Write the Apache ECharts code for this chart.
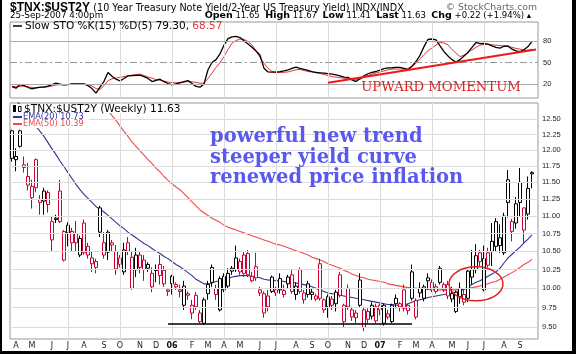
<!DOCTYPE html>
<html>
<head>
<meta charset="utf-8">
<script src="https://cdn.jsdelivr.net/npm/echarts@6/dist/echarts.min.js"></script>
<style>
  html, body { margin: 0; padding: 0; background: #fff; }
  #chart { width: 576px; height: 354px; }
</style>
</head>
<body>
<div id="chart"></div>
<script>
// weekly bars, first week starts Mon 28-Mar-2005
var firstWeek = Date.UTC(2005, 2, 28);
var weekSlots = 132; // one empty slot after the last bar

// [open, close, low, high]
var candles = [
  [12.31,11.87,11.82,12.33],[11.85,11.90,11.67,12.03],[12.31,12.06,12.04,12.33],[11.73,11.77,11.65,11.90],
  [11.59,11.46,11.38,11.80],[11.27,11.44,11.11,11.54],[11.85,11.42,11.35,11.87],[11.24,11.20,11.02,11.31],
  [11.37,11.22,11.02,11.42],[11.35,11.17,11.05,11.38],[10.66,10.92,10.50,11.00],[10.97,10.95,10.90,11.02],
  [11.37,10.92,10.90,11.54],[10.38,10.78,10.36,10.80],[10.76,10.87,10.57,10.91],[10.62,10.78,10.50,10.83],
  [10.75,10.62,10.50,10.93],[10.45,10.68,10.42,10.72],[10.90,10.48,10.45,10.95],[10.57,10.45,10.40,10.62],
  [10.41,10.33,10.22,10.50],[10.36,10.28,10.20,10.40],[11.12,10.77,10.70,11.15],[10.45,10.62,10.40,10.77],
  [10.49,10.77,10.38,10.80],[10.62,10.59,10.50,10.66],[10.26,10.50,10.18,10.59],[10.41,10.32,10.28,10.45],
  [10.22,10.52,10.18,10.62],[10.62,10.50,10.45,10.70],[10.00,10.42,9.98,10.50],[10.25,10.45,10.15,10.55],
  [10.45,10.28,10.20,10.50],[10.38,10.25,10.10,10.45],[10.32,10.27,10.22,10.35],[10.02,10.20,9.95,10.28],
  [10.24,10.25,10.08,10.32],[10.32,10.17,10.05,10.45],[10.24,10.06,10.02,10.30],[9.96,9.98,9.90,10.00],
  [10.16,10.06,9.92,10.18],[10.05,10.02,9.98,10.08],[9.96,9.98,9.88,10.05],[9.78,10.03,9.72,10.10],
  [9.93,9.91,9.85,9.96],[9.68,9.78,9.60,9.85],[9.91,9.76,9.72,9.95],[9.57,9.68,9.55,9.72],
  [9.55,9.85,9.53,9.88],[9.93,10.05,9.85,10.10],[10.28,10.08,10.02,10.32],[9.92,10.00,9.85,10.05],
  [9.72,10.13,9.70,10.16],[9.98,10.16,9.95,10.20],[10.03,10.20,10.00,10.27],[10.27,10.23,10.18,10.30],
  [10.25,10.41,10.22,10.58],[10.22,10.36,10.18,10.40],[10.45,10.20,10.15,10.50],[10.47,10.18,10.15,10.52],
  [10.10,10.16,10.08,10.22],[10.29,10.14,10.10,10.48],[9.98,9.94,9.90,10.02],[9.68,9.93,9.62,9.96],
  [9.76,9.90,9.70,9.98],[10.15,9.96,9.94,10.17],[9.98,9.94,9.90,10.02],[10.13,9.98,9.93,10.20],
  [9.92,9.97,9.88,10.05],[10.15,10.06,10.00,10.18],[10.18,9.96,9.93,10.25],[9.92,10.03,9.85,10.08],
  [10.25,9.96,9.93,10.28],[9.94,9.85,9.80,9.98],[10.06,9.92,9.88,10.10],[9.92,9.95,9.85,10.00],
  [9.86,9.90,9.83,9.93],[10.33,9.87,9.84,10.40],[9.72,9.85,9.68,9.87],[9.76,9.89,9.62,9.92],
  [9.78,9.86,9.72,9.90],[9.80,9.95,9.70,9.98],[10.18,9.91,9.88,10.22],[9.57,9.78,9.50,9.80],
  [10.00,9.76,9.72,10.05],[9.72,9.63,9.58,9.76],[9.68,9.62,9.55,9.72],[10.11,9.78,9.75,10.20],
  [9.50,9.72,9.45,9.76],[9.60,9.70,9.55,9.74],[9.64,9.78,9.60,9.82],[9.58,9.76,9.55,9.80],
  [9.78,9.72,9.65,9.80],[9.55,9.78,9.52,9.80],[9.63,9.67,9.60,9.72],[9.57,9.78,9.55,9.80],
  [9.87,9.80,9.74,9.92],[9.80,9.76,9.70,9.82],[9.98,9.74,9.70,10.05],[9.78,9.71,9.66,9.80],
  [10.22,9.87,9.84,10.32],[9.63,9.84,9.60,9.87],[10.00,9.94,9.88,10.08],[9.87,10.02,9.83,10.05],
  [10.14,10.10,9.98,10.20],[9.98,10.08,9.95,10.12],[9.96,10.02,9.93,10.06],[10.27,10.08,10.05,10.30],
  [9.98,10.05,9.95,10.08],[10.05,9.90,9.86,10.10],[9.86,9.93,9.82,10.02],[9.70,9.95,9.68,9.97],
  [9.89,10.00,9.80,10.08],[9.82,9.92,9.78,9.98],[9.87,10.23,9.82,10.25],[10.15,10.25,10.05,10.52],
  [10.25,10.44,10.20,10.60],[10.48,10.36,10.30,10.52],[9.98,10.40,9.96,10.58],[10.48,10.31,10.28,10.55],
  [10.64,10.50,10.30,10.90],[10.92,10.57,10.50,10.97],[10.69,10.58,10.48,10.88],[10.48,11.00,10.45,11.05],
  [11.54,11.20,10.98,11.69],[10.92,10.78,10.64,10.96],[11.18,10.90,10.82,11.28],[11.50,11.20,11.00,11.72],
  [10.80,11.12,10.62,11.12],[11.03,11.41,10.95,11.59],[11.65,11.63,11.41,11.67]
];

var ema20 = [
  12.91,12.82,12.74,12.65,12.55,12.46,12.38,12.30,12.22,12.12,12.02,11.93,11.83,11.74,11.65,11.56,
  11.47,11.39,11.32,11.26,11.20,11.14,11.10,11.06,11.01,10.96,10.91,10.86,10.82,10.77,10.73,10.69,
  10.65,10.61,10.58,10.54,10.50,10.47,10.43,10.40,10.36,10.32,10.29,10.25,10.21,10.17,10.12,10.09,
  10.06,10.06,10.07,10.09,10.10,10.12,10.13,10.15,10.16,10.17,10.17,10.17,10.16,10.15,10.14,10.12,
  10.11,10.11,10.10,10.10,10.09,10.09,10.08,10.07,10.06,10.05,10.04,10.02,10.00,9.98,9.96,9.94,
  9.93,9.92,9.91,9.90,9.89,9.88,9.87,9.86,9.85,9.84,9.83,9.82,9.81,9.80,9.79,9.79,
  9.78,9.78,9.78,9.80,9.82,9.84,9.85,9.86,9.88,9.89,9.90,9.91,9.92,9.93,9.94,9.95,
  9.97,9.99,10.02,10.05,10.08,10.10,10.13,10.16,10.19,10.22,10.27,10.34,10.41,10.46,10.51,10.56,
  10.62,10.67,10.73
];

var ema50 = [
  14.6,14.5,14.4,14.3,14.2,14.1,14.0,13.9,13.8,13.7,13.6,13.5,13.42,13.34,13.26,13.18,
  13.10,13.02,12.95,12.88,13.0,12.92,12.84,12.74,12.65,12.56,12.48,12.39,12.30,12.22,12.13,12.06,
  11.99,11.92,11.85,11.79,11.72,11.66,11.59,11.53,11.48,11.43,11.39,11.33,11.27,11.21,11.15,11.09,
  11.05,11.01,10.97,10.94,10.91,10.87,10.84,10.82,10.80,10.78,10.76,10.74,10.72,10.70,10.68,10.66,
  10.64,10.62,10.60,10.59,10.57,10.55,10.53,10.51,10.49,10.47,10.45,10.42,10.40,10.38,10.36,10.33,
  10.31,10.29,10.27,10.24,10.22,10.19,10.17,10.15,10.14,10.12,10.11,10.10,10.09,10.08,10.06,10.05,
  10.04,10.03,10.02,10.01,10.01,10.00,10.00,9.99,9.99,9.98,9.98,9.98,9.98,9.98,9.98,9.98,
  9.99,9.99,10.00,10.01,10.02,10.03,10.05,10.06,10.08,10.09,10.12,10.15,10.18,10.21,10.24,10.28,
  10.32,10.35,10.39
];

var stochK = [
  16.8,14.6,19.5,18,15.5,13.5,15,16,16,17.5,19.5,21.5,20,19,19.5,20.4,
  20.5,20.5,20.4,18,14,7.7,16,24,36.2,31,27,24.7,28,31.6,32,32.3,
  32.5,30.5,28,23.7,25.5,27,23.5,21,19.1,20.5,22,23.5,25,21,17,16,
  20.5,40,50,54,62,74,83,85.5,86,84.5,80,75.5,71,66,60,42,
  37,36.8,36.7,37.3,38.5,40,41.8,43.6,42,40.5,39,37.5,36.2,35.8,35.4,34.8,
  34,33,31.5,29.8,29.5,26,23.7,27.5,31.5,34.5,36.5,37.6,39.5,41.5,42.5,42.8,
  43.2,43.4,42,40,45,51.4,60,72,82,82.5,81.4,73,65,59,54,50.5,
  54,59,64,71,77.7,76,76.5,75.5,73.1,71,70,72.5,73,68.5,66,65.2,
  67.5,72,79.3
];

var stochD = [
  17,16.5,17,17.5,16.5,15.5,15,15.5,16,16.5,17.5,19,19.5,19.5,19.5,20,
  20,20,20,19.5,17.5,14,13,18,25,27.5,28.5,29.5,30.6,31.5,32.5,33.5,
  34,32,30,28.4,26.5,25.5,24.5,23,22.3,22,22.5,23,23.7,23.5,22.5,21.5,
  21.5,28,35.3,43,50,58.3,68,76.8,80.5,82.4,82,79,74.5,66,57,49,
  42,37.6,36.5,36.2,36.5,37,38.5,40,40.5,39,37.6,37,36.5,35,33.5,32,
  30.6,29.8,29,28.4,27.5,26.8,26,27,30,32,34,35.5,37,38.5,40,40.8,
  41,41,40.8,42,44.5,49,55,61,66.5,70,74,77.7,77,74.5,68,63,
  58.3,60,64,67.5,71,74,75,75,74.5,74,73.5,73.1,72,71,69.5,68.5,
  67,67,68.57
];

var priceTicks = [9.50, 9.75, 10.00, 10.25, 10.50, 10.75, 11.00, 11.25, 11.50, 11.75, 12.00, 12.25, 12.50];
var stochLevels = [20, 50, 80];
var monthLetters = ['J','F','M','A','M','J','J','A','S','O','N','D'];

var weeks = [];
for (var i = 0; i < weekSlots; i++) {
  weeks.push(new Date(firstWeek + i * 7 * 864e5).toISOString().slice(0, 10));
}
function monthStart(idx) {
  return idx < candles.length && +weeks[idx].slice(8, 10) <= 7;
}
var quarterLines = [];
weeks.forEach(function (w, idx) {
  var m = +w.slice(5, 7) - 1;
  if (idx > 2 && monthStart(idx) && m % 3 === 0) quarterLines.push({ xAxis: w });
});

var RED = '#cc0033';
var candleData = candles.map(function (c, idx) {
  var prev = idx > 0 ? candles[idx - 1][1] : c[1];
  var col = c[1] >= prev ? '#000' : RED;
  return {
    value: c,
    itemStyle: { color: '#fff', color0: col, borderColor: col, borderColor0: col, borderColorDoji: col }
  };
});

var gridLine = { color: '#dcdcdc', width: 1, type: 'solid' };
var tickFont = { color: '#222', fontSize: 7.5, fontFamily: 'Liberation Sans, Arial' };

var chartDom = document.getElementById('chart');
var myChart = echarts.init(chartDom);
var option = {
  animation: false,
  backgroundColor: '#fff',
  grid: [
    { left: 10, right: 38, top: 22, height: 76, show: true, borderColor: '#999', borderWidth: 1 },
    { left: 10, right: 38, top: 103, height: 236, show: true, borderColor: '#999', borderWidth: 1 }
  ],
  xAxis: [
    { type: 'category', gridIndex: 0, data: weeks, show: false },
    {
      type: 'category', gridIndex: 1, data: weeks,
      axisLine: { show: false }, axisTick: { show: false }, splitLine: { show: false },
      axisLabel: {
        margin: 3,
        interval: function (idx) { return monthStart(idx); },
        formatter: function (v) {
          var m = +v.slice(5, 7) - 1;
          return m === 0 ? '{y|' + v.slice(2, 4) + '}' : monthLetters[m];
        },
        color: '#222', fontSize: 8, fontFamily: 'DejaVu Sans',
        rich: { y: { fontWeight: 'bold', fontSize: 8, fontFamily: 'DejaVu Sans', color: '#111' } }
      }
    }
  ],
  yAxis: [
    { type: 'value', gridIndex: 0, min: 1, max: 106, show: false },
    { type: 'log', gridIndex: 1, min: 9.354, max: 12.77, show: false }
  ],
  series: [
    {
      // grid lines of the momentum panel
      type: 'line', xAxisIndex: 0, yAxisIndex: 0, data: stochK, z: 1, silent: true,
      symbol: 'none', lineStyle: { opacity: 0 },
      markLine: {
        silent: true, symbol: 'none', animation: false,
        label: Object.assign({ show: true, position: 'end', distance: 5, formatter: '{c}' }, tickFont),
        data: quarterLines.map(function (q) {
          return Object.assign({ lineStyle: gridLine, label: { show: false } }, q);
        }).concat(stochLevels.map(function (v) {
          return {
            yAxis: v,
            lineStyle: v === 50 ? { color: '#999', width: 1, type: [7, 3, 2, 3] } : { color: '#aaa', width: 1.2, type: 'solid' }
          };
        }))
      }
    },
    {
      name: '%D', type: 'line', xAxisIndex: 0, yAxisIndex: 0, data: stochD, z: 3,
      symbol: 'none', lineStyle: { color: '#e8363a', width: 1 }
    },
    {
      name: '%K', type: 'line', xAxisIndex: 0, yAxisIndex: 0, data: stochK, z: 4,
      symbol: 'none', lineStyle: { color: '#000', width: 1.3 },
      markLine: {
        silent: true, symbol: 'none', animation: false,
        lineStyle: { color: '#f01818', width: 2, type: 'solid' },
        label: { show: false },
        data: [[{ coord: [weeks[79], 22.2] }, { coord: [weeks[131], 67.9] }]]
      }
    },
    {
      // grid lines and price scale of the main panel
      type: 'line', xAxisIndex: 1, yAxisIndex: 1, data: ema20, z: 1, silent: true,
      symbol: 'none', lineStyle: { opacity: 0 },
      markLine: {
        silent: true, symbol: 'none', animation: false,
        label: Object.assign({ show: true, position: 'end', distance: 4,
          formatter: function (p) { return p.value.toFixed(2); } }, tickFont),
        data: quarterLines.map(function (q) {
          return Object.assign({ lineStyle: gridLine, label: { show: false } }, q);
        }).concat(priceTicks.map(function (v) {
          return { yAxis: v, lineStyle: gridLine };
        }))
      }
    },
    {
      name: 'EMA(50)', type: 'line', xAxisIndex: 1, yAxisIndex: 1, data: ema50, z: 2,
      symbol: 'none', lineStyle: { color: '#f04a4a', width: 1.1 }
    },
    {
      name: 'EMA(20)', type: 'line', xAxisIndex: 1, yAxisIndex: 1, data: ema20, z: 2,
      symbol: 'none', lineStyle: { color: '#33338f', width: 1.1 }
    },
    {
      name: '$TNX:$UST2Y', type: 'candlestick', xAxisIndex: 1, yAxisIndex: 1, z: 3,
      barWidth: 2.6, data: candleData,
      itemStyle: { borderWidth: 1 },
      markLine: {
        silent: true, symbol: 'none', animation: false,
        lineStyle: { color: '#000', width: 1.6, type: 'solid' },
        label: { show: false },
        data: [[{ coord: [weeks[39], 9.54] }, { coord: [weeks[100], 9.54] }]]
      }
    }
  ],
  graphic: [
    // outer frame
    { type: 'rect', shape: { x: 0, y: 0, width: 2, height: 354 }, style: { fill: '#000' }, z: 100 },
    { type: 'rect', shape: { x: 572, y: 0, width: 4, height: 354 }, style: { fill: '#000' }, z: 100 },
    { type: 'rect', shape: { x: 0, y: 351, width: 576, height: 3 }, style: { fill: '#000' }, z: 100 },
    // header
    { type: 'text', x: 10, y: 8, z: 50, style: {
      text: '{a|$TNX:$UST2Y} {b|(10 Year Treasury Note Yield/2-Year US Treasury Yield) INDX/INDX}',
      verticalAlign: 'middle',
      rich: {
        a: { font: 'bold 12px Liberation Sans, Arial', fill: '#000' },
        b: { font: '9.6px DejaVu Sans', fill: '#000' }
      } } },
    { type: 'text', x: 537, y: 8, z: 50, style: {
      text: '\u00a9 StockCharts.com', align: 'right', verticalAlign: 'middle',
      font: '9.3px DejaVu Sans', fill: '#666' } },
    { type: 'text', x: 10, y: 16, z: 50, style: {
      text: '25-Sep-2007 4:00pm', verticalAlign: 'middle', font: '8.8px DejaVu Sans', fill: '#000' } },
    { type: 'text', x: 531, y: 16, z: 50, style: {
      text: '{h|Open} 11.65  {h|High} 11.67  {h|Low} 11.41  {h|Last} 11.63  {h|Chg} +0.22 (+1.94%) \u25b4',
      align: 'right', verticalAlign: 'middle', font: '8.5px DejaVu Sans', fill: '#000',
      rich: { h: { font: 'bold 9.5px DejaVu Sans', fill: '#000' } } } },
    // momentum legend
    { type: 'line', shape: { x1: 13, y1: 26, x2: 22, y2: 26 }, style: { stroke: '#000', lineWidth: 1.5 }, z: 50 },
    { type: 'text', x: 25, y: 26, z: 50, style: {
      text: 'Slow STO %K(15) %D(5) 79.30, {r|68.57}', verticalAlign: 'middle',
      font: '10.5px DejaVu Sans', fill: '#000',
      rich: { r: { font: '10.5px DejaVu Sans', fill: '#e8363a' } } } },
    { type: 'text', x: 441, y: 88, z: 50, style: {
      text: 'UPWARD MOMENTUM', align: 'center', verticalAlign: 'middle',
      font: '13.2px DejaVu Serif', fill: '#e02020' } },
    // price legend, on a white backing like the original
    { type: 'rect', shape: { x: 11, y: 104, width: 176, height: 9 }, style: { fill: '#fff' }, z: 45 },
    { type: 'rect', shape: { x: 11, y: 113, width: 78, height: 15 }, style: { fill: '#fff' }, z: 45 },
    { type: 'rect', shape: { x: 13, y: 105, width: 3, height: 7 }, style: { fill: '#000' }, z: 50 },
    { type: 'rect', shape: { x: 18.5, y: 106.5, width: 2.5, height: 5 }, style: { fill: '#fff', stroke: '#000', lineWidth: 1 }, z: 50 },
    { type: 'text', x: 24, y: 109, z: 50, style: {
      text: '$TNX:$UST2Y (Weekly) 11.63', verticalAlign: 'middle', font: '10.6px DejaVu Sans', fill: '#000' } },
    { type: 'line', shape: { x1: 13, y1: 117, x2: 22, y2: 117 }, style: { stroke: '#33338f', lineWidth: 2 }, z: 50 },
    { type: 'text', x: 23, y: 117, z: 50, style: {
      text: 'EMA(20) 10.73', verticalAlign: 'middle', font: '8.2px DejaVu Sans', fill: '#33338f' } },
    { type: 'line', shape: { x1: 13, y1: 124, x2: 22, y2: 124 }, style: { stroke: '#f04a4a', lineWidth: 2 }, z: 50 },
    { type: 'text', x: 23, y: 124, z: 50, style: {
      text: 'EMA(50) 10.39', verticalAlign: 'middle', font: '8.2px DejaVu Sans', fill: '#f04a4a' } },
    // annotation
    { type: 'text', x: 210, y: 127, z: 50, style: {
      text: 'powerful new trend\nsteeper yield curve\nrenewed price inflation',
      verticalAlign: 'top', font: 'bold 19.5px DejaVu Serif', lineHeight: 20.3, fill: '#5959ee' } }
  ]
};

myChart.setOption(option);

// circle around the breakout
var center = myChart.convertToPixel({ xAxisIndex: 1, yAxisIndex: 1 }, [weeks[116], 10.06]);
myChart.setOption({
  graphic: [{ id: 'ring', type: 'ellipse', z: 60,
    shape: { cx: center[0], cy: center[1], rx: 27, ry: 17 },
    style: { fill: 'none', stroke: '#e02020', lineWidth: 1.5 } }]
});
</script>
</body>
</html>
